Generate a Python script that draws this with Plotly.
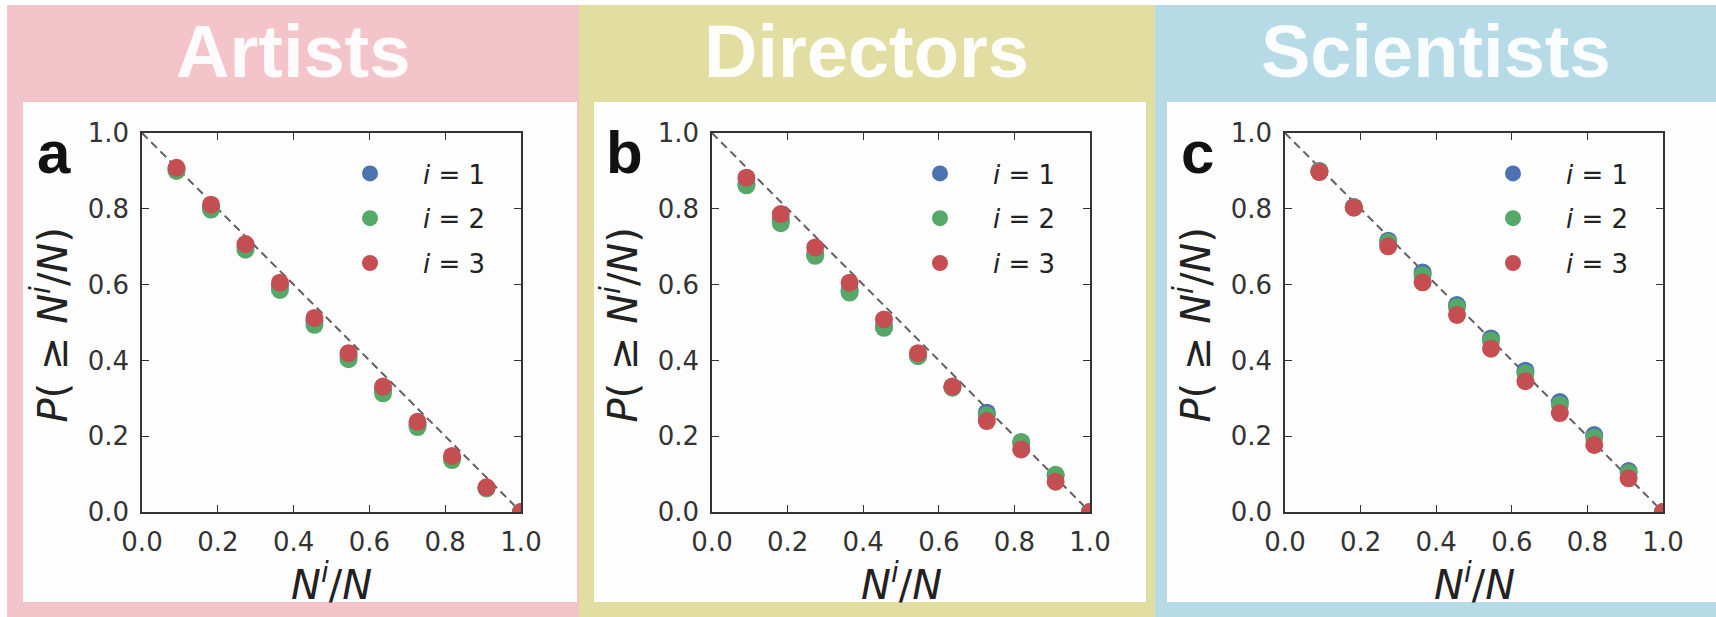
import plotly.graph_objects as go

# ---------------------------------------------------------------- data
x_frac = [0.091, 0.182, 0.273, 0.364, 0.455, 0.545, 0.636, 0.727, 0.818, 0.909, 1.0]

artists_i1 = [0.905, 0.805, 0.700, 0.597, 0.503, 0.412, 0.322, 0.231, 0.142, 0.063, 0.0]
artists_i2 = [0.900, 0.798, 0.692, 0.586, 0.494, 0.403, 0.313, 0.224, 0.137, 0.062, 0.0]
artists_i3 = [0.908, 0.811, 0.707, 0.605, 0.512, 0.419, 0.331, 0.238, 0.148, 0.065, 0.0]

directors_i1 = [0.866, 0.770, 0.680, 0.585, 0.490, 0.413, 0.330, 0.262, 0.183, 0.097, 0.0]
directors_i2 = [0.862, 0.762, 0.676, 0.579, 0.486, 0.411, 0.328, 0.255, 0.185, 0.098, 0.0]
directors_i3 = [0.882, 0.786, 0.698, 0.605, 0.508, 0.419, 0.331, 0.240, 0.165, 0.080, 0.0]

scientists_i1 = [0.900, 0.805, 0.716, 0.632, 0.546, 0.458, 0.373, 0.290, 0.203, 0.108, 0.0]
scientists_i2 = [0.899, 0.804, 0.712, 0.625, 0.540, 0.452, 0.366, 0.283, 0.196, 0.103, 0.0]
scientists_i3 = [0.897, 0.803, 0.701, 0.606, 0.520, 0.431, 0.345, 0.261, 0.177, 0.089, 0.0]

diag_x = [0.0, 1.0]
diag_y = [1.0, 0.0]

groups = ["Artists", "Directors", "Scientists"]
letters = ["a", "b", "c"]
series_names = ["i = 1", "i = 2", "i = 3"]
group_series = [
    [artists_i1, artists_i2, artists_i3],
    [directors_i1, directors_i2, directors_i3],
    [scientists_i1, scientists_i2, scientists_i3],
]
tick_vals = [0.0, 0.2, 0.4, 0.6, 0.8, 1.0]

# --------------------------------------------------------------- style
W, H = 1716, 617
series_colors = ["#4C72B0", "#55A868", "#C44E52"]
band_colors = ["#f3c5cb", "#e2dea2", "#b6dbe6"]
TICK_FONT = dict(family="DejaVu Sans", size=26, color="#333333")

# panel layout in pixels (left, right) of each band, white card and axes box
band_x = [(7, 579), (579, 1155), (1155, 1716)]
card_x = [(23, 577), (594, 1146), (1167, 1716)]
axes_x = [(142, 521), (712, 1090), (1285, 1663)]
axes_top, axes_bottom = 133, 512
band_top, card_top, card_bottom = 5, 102, 602


def px(x):
    return x / W


def py(y):
    return 1 - y / H


fig = go.Figure()
shapes = []
annotations = []

for k, name in enumerate(groups):
    xa = "x" if k == 0 else f"x{k + 1}"
    ya = "y" if k == 0 else f"y{k + 1}"
    leg = "legend" if k == 0 else f"legend{k + 1}"

    # dashed reference line P = 1 - x
    fig.add_trace(go.Scatter(
        x=diag_x, y=diag_y, mode="lines", xaxis=xa, yaxis=ya,
        line=dict(color="#606060", width=2, dash="8px,5px"),
        showlegend=False, hoverinfo="skip"))

    for s, (label, vals) in enumerate(zip(series_names, group_series[k])):
        italic_label = "<i>i</i> = " + label.split("= ")[1]
        fig.add_trace(go.Scatter(
            x=x_frac, y=vals, mode="markers", xaxis=xa, yaxis=ya,
            name="\u00a0\u00a0\u00a0\u00a0" + italic_label,
            legend=leg, legendgroup=f"{name}{s}",
            marker=dict(size=18, color=series_colors[s], line=dict(width=0)),
            cliponaxis=True))

    # coloured band and white card
    bx0, bx1 = band_x[k]
    shapes.append(dict(type="rect", xref="paper", yref="paper", layer="below",
                       x0=px(bx0), x1=px(bx1), y0=0, y1=py(band_top),
                       fillcolor=band_colors[k], line=dict(width=0)))
    cx0, cx1 = card_x[k]
    shapes.append(dict(type="rect", xref="paper", yref="paper", layer="below",
                       x0=px(cx0), x1=px(cx1), y0=py(card_bottom), y1=py(card_top),
                       fillcolor="#fdfdfd", line=dict(width=0)))

    ax0, ax1 = axes_x[k]
    axis_common = dict(range=[0, 1], tickvals=tick_vals, tickformat=".1f",
                       ticks="inside", ticklen=7, tickwidth=1.3, tickcolor="#333333",
                       showline=True, linecolor="#333333", linewidth=1.6,
                       mirror="ticks", showgrid=False, zeroline=False,
                       automargin=False,
                       tickfont=TICK_FONT, fixedrange=True)
    fig.update_layout(**{
        ("xaxis" if k == 0 else f"xaxis{k + 1}"): dict(
            domain=[px(ax0), px(ax1)], anchor=ya, ticklabelstandoff=6, **axis_common),
        ("yaxis" if k == 0 else f"yaxis{k + 1}"): dict(
            domain=[py(axes_bottom), py(axes_top)], anchor=xa, ticklabelstandoff=6,
            **axis_common),
        leg: dict(x=px(ax0 + 208), y=py(150), xanchor="left", yanchor="top",
                  bgcolor="rgba(0,0,0,0)", borderwidth=0,
                  font=dict(family="DejaVu Sans", size=26, color="#222222"),
                  tracegroupgap=8, itemsizing="trace"),
    })

    cx = (bx0 + bx1) / 2
    annotations.append(dict(
        text=f"<b>{name}</b>", xref="paper", yref="paper", x=px(cx), y=py(52),
        showarrow=False, xanchor="center", yanchor="middle",
        font=dict(family="Liberation Sans", size=74, color="rgba(255,255,255,0.93)")))
    annotations.append(dict(
        text=f"<b>{letters[k]}</b>", xref="paper", yref="paper", x=px(ax0 - 88),
        y=py(152), showarrow=False, xanchor="center", yanchor="middle",
        font=dict(family="Liberation Sans", size=60, color="#111111")))
    annotations.append(dict(
        text="<i>P</i>( \u2265 <i>N</i><sup><i>i</i></sup>/<i>N</i>)", xref="paper",
        yref="paper", x=px(ax0 - 92), y=py((axes_top + axes_bottom) / 2 + 3),
        textangle=-90, showarrow=False, xanchor="center", yanchor="middle",
        font=dict(family="DejaVu Sans", size=40, color="#222222")))
    annotations.append(dict(
        text="<i>N</i><sup><i>i</i></sup>/<i>N</i>", xref="paper", yref="paper",
        x=px((ax0 + ax1) / 2), y=py(582), showarrow=False, xanchor="center",
        yanchor="middle", font=dict(family="DejaVu Sans", size=40, color="#222222")))

fig.update_layout(
    width=W, height=H, autosize=False,
    margin=dict(l=0, r=0, t=0, b=0, pad=0, autoexpand=False),
    paper_bgcolor="white", plot_bgcolor="rgba(0,0,0,0)",
    shapes=shapes, annotations=annotations,
)

fig.write_html("out.html")
